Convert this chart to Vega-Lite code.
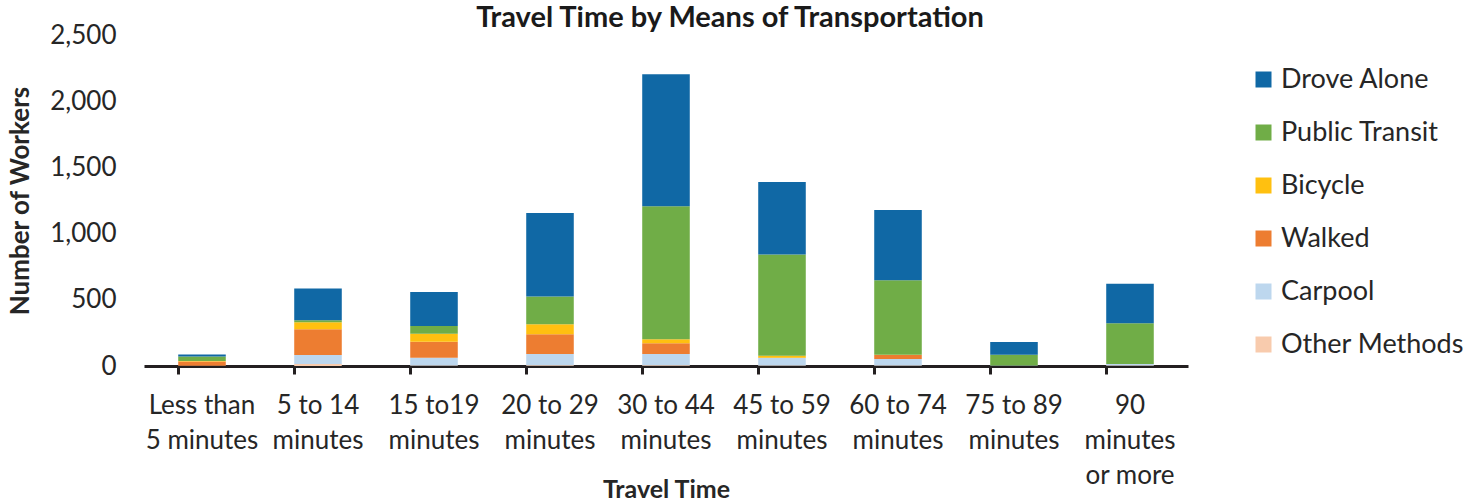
{
  "$schema": "https://vega.github.io/schema/vega-lite/v6.json",
  "width": 1044,
  "height": 331,
  "autosize": {"type": "none"},
  "padding": {"left": 144, "top": 35, "right": 291, "bottom": 138},
  "background": "white",
  "config": {
    "font": "Lato",
    "view": {"stroke": null},
    "axis": {"labelFont": "Lato", "titleFont": "Lato", "labelColor": "#262626", "titleColor": "#262626", "grid": false}
  },
  "title": {
    "text": "Travel Time by Means of Transportation",
    "font": "Lato", "fontSize": 29, "fontWeight": "bold", "color": "#1a1a1a",
    "anchor": "middle", "frame": "group", "dx": 64, "offset": -34, "baseline": "alphabetic"
  },
  "data": {
    "values": [
      {"time": "Less than|5 minutes", "mode": "Other Methods", "workers": 0},
      {"time": "Less than|5 minutes", "mode": "Carpool", "workers": 2},
      {"time": "Less than|5 minutes", "mode": "Walked", "workers": 32},
      {"time": "Less than|5 minutes", "mode": "Bicycle", "workers": 3},
      {"time": "Less than|5 minutes", "mode": "Public Transit", "workers": 35},
      {"time": "Less than|5 minutes", "mode": "Drove Alone", "workers": 15},
      {"time": "5 to 14|minutes", "mode": "Other Methods", "workers": 15},
      {"time": "5 to 14|minutes", "mode": "Carpool", "workers": 68},
      {"time": "5 to 14|minutes", "mode": "Walked", "workers": 195},
      {"time": "5 to 14|minutes", "mode": "Bicycle", "workers": 52},
      {"time": "5 to 14|minutes", "mode": "Public Transit", "workers": 15},
      {"time": "5 to 14|minutes", "mode": "Drove Alone", "workers": 240},
      {"time": "15 to19|minutes", "mode": "Other Methods", "workers": 3},
      {"time": "15 to19|minutes", "mode": "Carpool", "workers": 60},
      {"time": "15 to19|minutes", "mode": "Walked", "workers": 120},
      {"time": "15 to19|minutes", "mode": "Bicycle", "workers": 60},
      {"time": "15 to19|minutes", "mode": "Public Transit", "workers": 60},
      {"time": "15 to19|minutes", "mode": "Drove Alone", "workers": 255},
      {"time": "20 to 29|minutes", "mode": "Other Methods", "workers": 5},
      {"time": "20 to 29|minutes", "mode": "Carpool", "workers": 85},
      {"time": "20 to 29|minutes", "mode": "Walked", "workers": 150},
      {"time": "20 to 29|minutes", "mode": "Bicycle", "workers": 75},
      {"time": "20 to 29|minutes", "mode": "Public Transit", "workers": 210},
      {"time": "20 to 29|minutes", "mode": "Drove Alone", "workers": 630},
      {"time": "30 to 44|minutes", "mode": "Other Methods", "workers": 5},
      {"time": "30 to 44|minutes", "mode": "Carpool", "workers": 85},
      {"time": "30 to 44|minutes", "mode": "Walked", "workers": 82},
      {"time": "30 to 44|minutes", "mode": "Bicycle", "workers": 30},
      {"time": "30 to 44|minutes", "mode": "Public Transit", "workers": 1005},
      {"time": "30 to 44|minutes", "mode": "Drove Alone", "workers": 997},
      {"time": "45 to 59|minutes", "mode": "Other Methods", "workers": 3},
      {"time": "45 to 59|minutes", "mode": "Carpool", "workers": 57},
      {"time": "45 to 59|minutes", "mode": "Walked", "workers": 2},
      {"time": "45 to 59|minutes", "mode": "Bicycle", "workers": 15},
      {"time": "45 to 59|minutes", "mode": "Public Transit", "workers": 765},
      {"time": "45 to 59|minutes", "mode": "Drove Alone", "workers": 547},
      {"time": "60 to 74|minutes", "mode": "Other Methods", "workers": 3},
      {"time": "60 to 74|minutes", "mode": "Carpool", "workers": 50},
      {"time": "60 to 74|minutes", "mode": "Walked", "workers": 30},
      {"time": "60 to 74|minutes", "mode": "Bicycle", "workers": 2},
      {"time": "60 to 74|minutes", "mode": "Public Transit", "workers": 562},
      {"time": "60 to 74|minutes", "mode": "Drove Alone", "workers": 532},
      {"time": "75 to 89|minutes", "mode": "Other Methods", "workers": 0},
      {"time": "75 to 89|minutes", "mode": "Carpool", "workers": 3},
      {"time": "75 to 89|minutes", "mode": "Walked", "workers": 0},
      {"time": "75 to 89|minutes", "mode": "Bicycle", "workers": 0},
      {"time": "75 to 89|minutes", "mode": "Public Transit", "workers": 82},
      {"time": "75 to 89|minutes", "mode": "Drove Alone", "workers": 97},
      {"time": "90|minutes|or more", "mode": "Other Methods", "workers": 3},
      {"time": "90|minutes|or more", "mode": "Carpool", "workers": 12},
      {"time": "90|minutes|or more", "mode": "Walked", "workers": 0},
      {"time": "90|minutes|or more", "mode": "Bicycle", "workers": 0},
      {"time": "90|minutes|or more", "mode": "Public Transit", "workers": 307},
      {"time": "90|minutes|or more", "mode": "Drove Alone", "workers": 300}
    ]
  },
  "transform": [
    {"calculate": "indexof(['Other Methods','Carpool','Walked','Bicycle','Public Transit','Drove Alone'], datum.mode)", "as": "stackRank"}
  ],
  "mark": {"type": "bar"},
  "encoding": {
    "x": {
      "field": "time", "type": "nominal", "sort": null,
      "scale": {"paddingInner": 0.59, "paddingOuter": 0.295},
      "axis": {
        "title": "Travel Time", "titleFontSize": 25, "titleFontWeight": "bold",
        "titleY": 131, "titleBaseline": "alphabetic",
        "labelAngle": 0, "labelFontSize": 26, "labelLineHeight": 35, "labelPadding": 18,
        "labelExpr": "split(datum.label, '|')",
        "bandPosition": 0, "tickSize": 8, "tickWidth": 3, "tickColor": "#231f20",
        "domainColor": "#231f20", "domainWidth": 3
      }
    },
    "y": {
      "field": "workers", "type": "quantitative", "stack": "zero",
      "scale": {"domain": [0, 2500], "nice": false},
      "axis": {
        "title": "Number of Workers", "titleFontSize": 26, "titleFontWeight": "bold", "titlePadding": 16,
        "values": [0, 500, 1000, 1500, 2000, 2500], "format": ",.0f",
        "labelFontSize": 26, "labelPadding": 28, "domain": false, "ticks": false
      }
    },
    "color": {
      "field": "mode", "type": "nominal",
      "scale": {
        "domain": ["Drove Alone", "Public Transit", "Bicycle", "Walked", "Carpool", "Other Methods"],
        "range": ["#1068a5", "#70ad47", "#ffc010", "#ed7d31", "#bdd7ee", "#f8cbad"]
      },
      "legend": {
        "title": null, "orient": "none", "legendX": 1106, "legendY": 31,
        "symbolType": "square", "symbolSize": 256, "symbolStrokeWidth": 0,
        "labelFontSize": 27, "labelFont": "Lato", "labelColor": "#262626", "labelLimit": 400,
        "rowPadding": 25, "labelOffset": 4, "symbolOffset": 0, "padding": 0
      }
    },
    "order": {"field": "stackRank", "type": "quantitative", "sort": "ascending"}
  }
}
